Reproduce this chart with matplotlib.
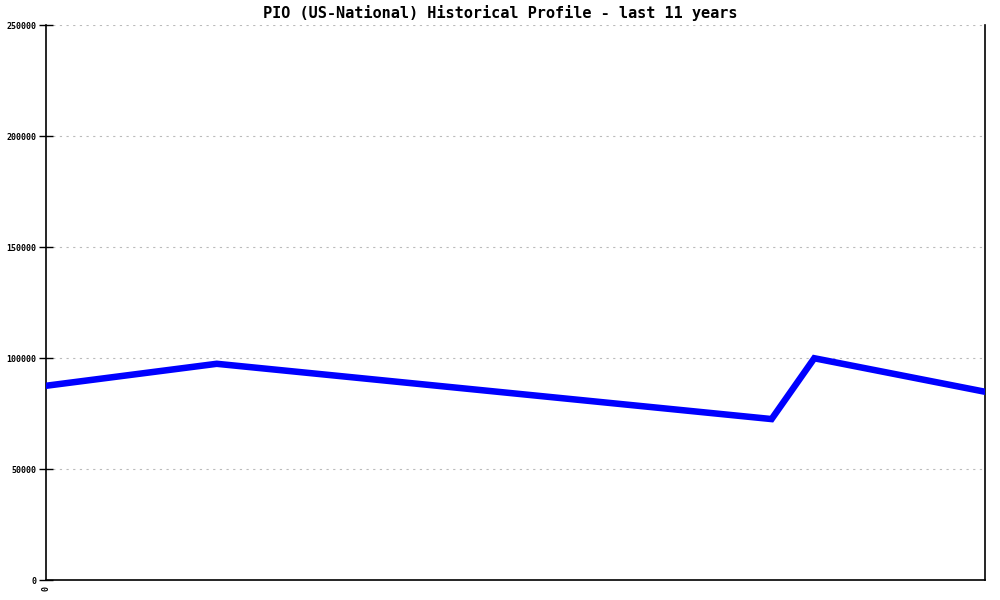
import matplotlib
matplotlib.use("Agg")
import matplotlib.pyplot as plt

# Historical profile (x = years from start of window)
YEARS = [0.0, 2.0, 8.5, 9.0, 11.0]
VALUES = [87500, 97400, 72500, 99900, 84800]
Y_TICKS = [0, 50000, 100000, 150000, 200000, 250000]
X_TICKS = [0]
X_TICK_LABELS = ["0"]

TITLE = "PIO (US-National) Historical Profile - last 11 years"


def main():
    fig = plt.figure(figsize=(10, 6), dpi=100)
    ax = fig.add_axes([0.046, 0.0333, 0.939, 0.925])

    ax.plot(YEARS, VALUES, color="#0000ff", lw=4.7, solid_joinstyle="miter",
            zorder=3)

    ax.set_xlim(0, 11)
    ax.set_ylim(0, 250000)
    ax.set_yticks(Y_TICKS)
    ax.set_yticklabels([str(v) for v in Y_TICKS], family="DejaVu Sans Mono",
                       fontsize=6, fontweight="bold")
    ax.set_xticks(X_TICKS)
    ax.set_xticklabels(X_TICK_LABELS, rotation=90, family="DejaVu Sans Mono",
                       fontsize=6, fontweight="bold")
    ax.tick_params(axis="y", direction="inout", length=10, width=1, pad=2)
    ax.tick_params(axis="x", length=0, pad=4)

    ax.grid(axis="y", ls=(0, (2, 4)), color="#bbbbbb", lw=0.8)
    ax.spines["top"].set_visible(False)
    for s in ("left", "bottom", "right"):
        ax.spines[s].set_color("black")
        ax.spines[s].set_linewidth(1.2)

    fig.text(0.5, 0.978, TITLE, ha="center", va="center",
             family="DejaVu Sans Mono", fontsize=11, fontweight="bold")

    fig.savefig("out.png", dpi=100)


if __name__ == "__main__":
    main()
